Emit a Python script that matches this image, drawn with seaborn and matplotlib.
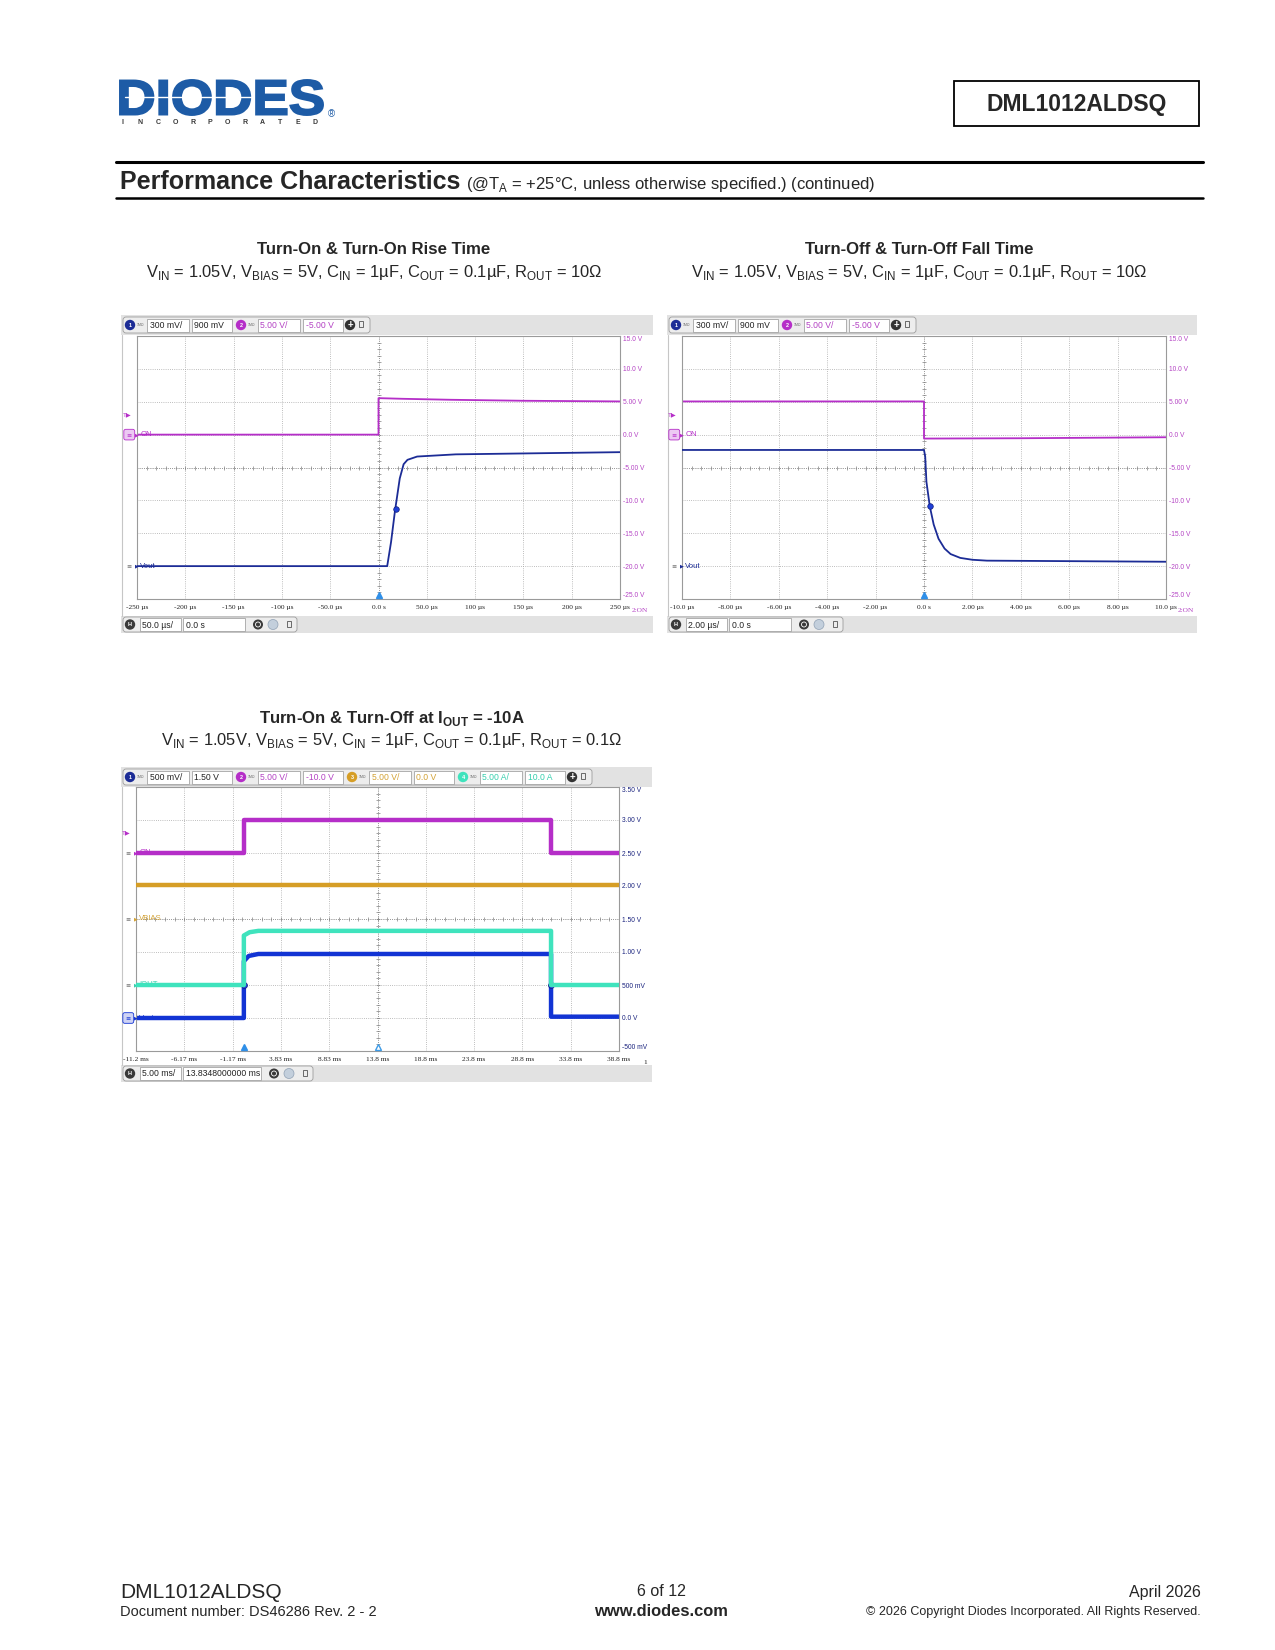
import numpy as np
import pandas as pd
import seaborn as sns
import matplotlib.pyplot as plt
from matplotlib.patches import Rectangle, Circle, FancyBboxPatch, PathPatch
from matplotlib.textpath import TextPath
from matplotlib.font_manager import FontProperties
from matplotlib.transforms import Affine2D, blended_transform_factory

plt.switch_backend('agg')

# Turn-On & Turn-On Rise Time (50 us/div), time in us
rise_xlabels = ['-250 µs', '-200 µs', '-150 µs', '-100 µs', '-50.0 µs', '0.0 s',
                '50.0 µs', '100 µs', '150 µs', '200 µs', '250 µs']
rise_on_t = [-250, 0, 0, 25, 75, 150, 250]
rise_on_v = [0.0, 0.0, 5.55, 5.45, 5.3, 5.15, 5.05]
rise_vout_t = [-250, 9, 13, 17, 22, 26, 30, 40, 80, 250]
rise_vout_v = [0.0, 0.0, 0.22, 0.5, 0.8, 0.93, 0.97, 1.0, 1.02, 1.04]
rise_mark_t = [18]
rise_mark_v = [0.52]

# Turn-Off & Turn-Off Fall Time (2 us/div), time in us
fall_xlabels = ['-10.0 µs', '-8.00 µs', '-6.00 µs', '-4.00 µs', '-2.00 µs', '0.0 s',
                '2.00 µs', '4.00 µs', '6.00 µs', '8.00 µs', '10.0 µs']
fall_on_t = [-10, 0, 0, 4, 10]
fall_on_v = [5.05, 5.05, -0.6, -0.55, -0.4]
fall_vout_t = [-10, 0.0, 0.05, 0.1, 0.24, 0.4, 0.6, 0.85, 1.1, 1.5, 2.0, 2.6, 10]
fall_vout_v = [1.06, 1.06, 1.0, 0.77, 0.545, 0.38, 0.25, 0.16, 0.11, 0.075, 0.058, 0.05, 0.04]
fall_mark_t = [0.24]
fall_mark_v = [0.545]

# Turn-On & Turn-Off at IOUT = -10A (5 ms/div), time in ms
load_xlabels = ['-11.2 ms', '-6.17 ms', '-1.17 ms', '3.83 ms', '8.83 ms', '13.8 ms',
                '18.8 ms', '23.8 ms', '28.8 ms', '33.8 ms', '38.8 ms']
load_on_t = [-11.17, 0, 0, 31.8, 31.8, 38.83]
load_on_v = [0.0, 0.0, 5.0, 5.0, 0.0, 0.0]
load_vbias_t = [-11.17, 38.83]
load_vbias_v = [5.2, 5.2]
load_iout_t = [-11.17, 0, 0, 0.6, 1.5, 31.8, 31.8, 38.83]
load_iout_a = [0.0, 0.0, 7.5, 8.0, 8.2, 8.2, 0.0, 0.0]
load_vout_t = [-11.17, 0, 0, 0.5, 1.5, 31.8, 31.8, 38.83]
load_vout_v = [0.0, 0.0, 0.86, 0.94, 0.97, 0.97, 0.02, 0.02]
load_mark_t = [0, 31.8]
load_mark_v = [0.5, 0.5]

# right-hand scale labels (top to bottom)
on_ylabels = ['15.0 V', '10.0 V', '5.00 V', '0.0 V', '-5.00 V', '-10.0 V', '-15.0 V', '-20.0 V', '-25.0 V']
load_ylabels = ['3.50 V', '3.00 V', '2.50 V', '2.00 V', '1.50 V', '1.00 V', '500 mV', '0.0 V', '-500 mV']

# channel colours
C1 = '#1c2c96'
C1_BRIGHT = '#1234d4'
C2 = '#b52ec8'
C3 = '#d69e26'
C4 = '#3fe3bd'
C2_TXT = '#b443c4'
C3_TXT = '#d3a235'
C4_TXT = '#36cfae'
BLUE_LOGO = '#1d5ba6'

W, H = 1275, 1650

sns.set_style('white')
plt.rcParams['font.family'] = ['Liberation Sans', 'DejaVu Sans']

fig = plt.figure(figsize=(12.75, 16.5), dpi=100)
page = fig.add_axes([0, 0, 1, 1])
page.set_xlim(0, W)
page.set_ylim(H, 0)
page.axis('off')


def frac(l, t, r, b):
    return [l / W, 1 - b / H, (r - l) / W, (b - t) / H]


# ---------------- scope chrome ----------------
def value_box(x0, x1, yc, s, color):
    page.add_patch(Rectangle((x0, yc - 6.5), x1 - x0, 13, fc='white', ec='#a4a4a4', lw=0.6))
    page.text(x0 + 2.5, yc + 0.5, s, fontsize=6.2, color=color, ha='left', va='center')


def group_box(x0, x1, yc, h=16):
    page.add_patch(FancyBboxPatch((x0, yc - h / 2), x1 - x0, h,
                                  boxstyle='round,pad=0,rounding_size=3',
                                  fc='#ededed', ec='#9c9c9c', lw=0.6))


def top_bar(l, r, t, chans):
    page.add_patch(Rectangle((l, t), r - l, 20, fc='#e2e2e2', ec='none'))
    yc = t + 10
    plus_x = l + 7 + len(chans) * 111
    group_box(l + 2, plus_x + 20, yc)
    for i, (num, ccol, tcol, s1, s2) in enumerate(chans):
        o = l + i * 111
        page.add_patch(Circle((o + 9, yc), 5.2, fc=ccol, ec='none'))
        page.text(o + 9, yc + 0.3, num, color='white', fontsize=4, fontweight='bold',
                  ha='center', va='center')
        page.text(o + 15.5, yc, '1MΩ', fontsize=2.5, color='#6a6a6a', va='center')
        value_box(o + 26, o + 68, yc, s1, tcol)
        value_box(o + 71, o + 111, yc, s2, tcol)
    page.add_patch(Circle((plus_x, yc), 5.2, fc='#333333', ec='none'))
    page.text(plus_x, yc, '+', color='white', fontsize=7, fontweight='bold', ha='center', va='center')
    page.add_patch(Rectangle((plus_x + 9, yc - 4), 4, 6, fc='none', ec='#555555', lw=0.6))


def bottom_bar(l, r, t, b, s1, s2, w2):
    page.add_patch(Rectangle((l, t), r - l, b - t, fc='#e2e2e2', ec='none'))
    yc = (t + b) / 2
    end = l + 62 + w2
    group_box(l + 2, end + 52, yc, h=15)
    page.add_patch(Circle((l + 9, yc), 5.2, fc='#3a3a3a', ec='none'))
    page.text(l + 9, yc + 0.3, 'H', color='white', fontsize=4, fontweight='bold', ha='center', va='center')
    value_box(l + 19, l + 60, yc, s1, '#222222')
    value_box(l + 62, end, yc, s2, '#222222')
    page.add_patch(Circle((end + 13, yc), 5, fc='#3a3a3a', ec='none'))
    page.add_patch(Circle((end + 13, yc), 2.5, fc='none', ec='white', lw=0.6))
    page.add_patch(Circle((end + 28, yc), 5, fc='#c3cfdc', ec='#8fa0b4', lw=0.5))
    page.add_patch(Rectangle((end + 42, yc - 4), 4, 6, fc='none', ec='#555555', lw=0.6))


def panel(l, plot_t, bar_t):
    page.plot([l + 1, l + 1], [plot_t, bar_t], color='#c6c6c6', lw=0.8)


def scope(rect, xlim, xlabels, chans, ref, ylabels, ycolor):
    l, t, r, b = rect
    ax = fig.add_axes(frac(l, t, r, b))
    axs = {name: (ax if name == ref else ax.twinx()) for name in chans}
    for name, (scale, center) in chans.items():
        a = axs[name]
        a.set_ylim(center - 4 * scale, center + 4 * scale)
        if a is not ax:
            a.set_yticks([])
            for s in a.spines.values():
                s.set_visible(False)
    scale, center = chans[ref]
    lo, hi = center - 4 * scale, center + 4 * scale
    ax.set_xlim(*xlim)
    ax.set_facecolor('white')
    ax.set_xticks(np.linspace(xlim[0], xlim[1], 11))
    ax.set_xticklabels(xlabels, fontfamily='Liberation Serif')
    ax.set_yticks(np.linspace(lo, hi, 9))
    ax.set_yticklabels(ylabels[::-1])
    ax.yaxis.tick_right()
    ax.tick_params(axis='x', length=0, pad=4.5, labelsize=5.3, labelcolor='#222222')
    ax.tick_params(axis='y', length=0, pad=2.5, labelsize=4.8, labelcolor=ycolor)
    ylab = ax.get_yticklabels()
    ylab[-1].set_va('top')
    ylab[0].set_va('bottom')
    ax.grid(True, color='#a8a8a8', lw=0.6, ls=(0, (1, 1.6)))
    for s in ax.spines.values():
        s.set_color('#9a9a9a')
        s.set_linewidth(0.8)
    xm = (xlim[0] + xlim[1]) / 2
    ax.axvline(xm, color='#8c8c8c', lw=0.6, ls=(0, (1, 1.6)))
    ax.axhline(center, color='#8c8c8c', lw=0.6, ls=(0, (1, 1.6)))
    ax.plot(np.linspace(xlim[0], xlim[1], 51), np.full(51, center), ls='none',
            marker='|', ms=2.4, mew=0.5, color='#808080')
    ax.plot(np.full(41, xm), np.linspace(lo, hi, 41), ls='none',
            marker='_', ms=2.4, mew=0.5, color='#808080')
    return ax, axs


def trace(a, t, v, color, lw):
    df = pd.DataFrame({'t': t, 'v': v})
    sns.lineplot(data=df, x='t', y='v', ax=a, color=color, lw=lw,
                 estimator=None, sort=False, legend=False)
    a.set_xlabel('')
    a.set_ylabel('')


def chan_marker(ax, a, y, label, color, selected=None):
    tr = blended_transform_factory(ax.transAxes, a.transData)
    kw = dict(transform=tr, va='center', clip_on=False)
    if selected:
        ax.text(-0.016, y, '≡', ha='center', fontsize=4.5, color=color, family=['DejaVu Sans'],
                bbox=dict(boxstyle='round,pad=0.45,rounding_size=0.3', fc=selected, ec=color, lw=0.6), **kw)
    else:
        ax.text(-0.016, y, '≡', ha='center', fontsize=4.5, color='#666666', family=['DejaVu Sans'], **kw)
    ax.text(-0.004, y, '▶', ha='left', fontsize=3.6, color=color, family=['DejaVu Sans'], **kw)
    ax.text(0.007, y, label, ha='left', fontsize=5.6, color=color, **kw)


def trig_level(ax, a, y, color):
    tr = blended_transform_factory(ax.transAxes, a.transData)
    ax.text(-0.03, y, 'T▶', transform=tr, ha='left', va='center', fontsize=4.5, color=color,
            family=['Liberation Sans', 'DejaVu Sans'], clip_on=False)


def finish(ax, axs, chans, xlim):
    for name, (scale, center) in chans.items():
        axs[name].set_ylim(center - 4 * scale, center + 4 * scale)
    ax.set_xlim(*xlim)


# ---------------- page header ----------------
tp = TextPath((0, 0), 'DIODES', size=100, prop=FontProperties(family='Liberation Sans', weight='bold'))
bb = tp.get_extents()
logo_tr = Affine2D().translate(-bb.x0, -bb.y0).scale(203 / bb.width, -35 / bb.height).translate(120, 115)
page.add_patch(PathPatch(logo_tr.transform_path(tp), fc=BLUE_LOGO, ec=BLUE_LOGO, lw=1.4))
page.plot([125, 252], [97, 97], color='white', lw=1.0)
for i, ch in enumerate('INCORPORATED'):
    page.text(123 + i * 17.45, 122.5, ch, fontsize=5, fontweight='bold', color='#3a3a3a',
              ha='center', va='center')
page.text(331, 114, '®', fontsize=7, color=BLUE_LOGO, ha='center', va='center')

page.add_patch(Rectangle((954, 81), 245, 45, fc='white', ec='black', lw=1.3))
page.text(1076.5, 104, 'DML1012ALDSQ', fontsize=16.5, fontweight='bold', ha='center', va='center')

page.plot([116, 1203], [161.5, 161.5], color='black', lw=2.2)
page.plot([116, 1203], [197.5, 197.5], color='black', lw=1.8)
page.text(120, 182, 'Performance Characteristics', fontsize=18, fontweight='bold', ha='left', va='center')
page.text(466, 184, r'(@T$_{\mathregular{A}}$ = +25°C, unless otherwise specified.) (continued)',
          fontsize=12, ha='left', va='center')

# ---------------- chart titles ----------------
sub_10 = (r'V$_{\mathregular{IN}}$ = 1.05V, V$_{\mathregular{BIAS}}$ = 5V, C$_{\mathregular{IN}}$ = 1µF, '
          r'C$_{\mathregular{OUT}}$ = 0.1µF, R$_{\mathregular{OUT}}$ = 10Ω')
sub_01 = (r'V$_{\mathregular{IN}}$ = 1.05V, V$_{\mathregular{BIAS}}$ = 5V, C$_{\mathregular{IN}}$ = 1µF, '
          r'C$_{\mathregular{OUT}}$ = 0.1µF, R$_{\mathregular{OUT}}$ = 0.1Ω')
page.text(374, 250, 'Turn-On & Turn-On Rise Time', fontsize=12.1, fontweight='bold', ha='center', va='center')
page.text(374, 273, sub_10, fontsize=11.9, ha='center', va='center')
page.text(919, 250, 'Turn-Off & Turn-Off Fall Time', fontsize=12.1, fontweight='bold', ha='center', va='center')
page.text(919, 273, sub_10, fontsize=11.9, ha='center', va='center')
page.text(392, 718, r'Turn-On & Turn-Off at I$_{\mathregular{OUT}}$ = -10A', fontsize=12.1,
          fontweight='bold', ha='center', va='center')
page.text(392, 741, sub_01, fontsize=11.9, ha='center', va='center')

# ---------------- scope 1: turn-on ----------------
ch_on = {'ch1': (0.3, 0.9), 'ch2': (5.0, -5.0)}
panel(121, 335, 616)
top_bar(121, 653, 315, [('1', C1, '#222222', '300 mV/', '900 mV'),
                        ('2', C2, C2_TXT, '5.00 V/', '-5.00 V')])
bottom_bar(121, 653, 616, 633, '50.0 µs/', '0.0 s', 62)
ax1, axs1 = scope((137, 336, 620, 599), (-250, 250), rise_xlabels, ch_on, 'ch2', on_ylabels, C2_TXT)
trace(axs1['ch2'], rise_on_t, rise_on_v, C2, 1.3)
trace(axs1['ch1'], rise_vout_t, rise_vout_v, C1, 1.3)
axs1['ch1'].scatter(rise_mark_t, rise_mark_v, s=16, color='#2040d8', edgecolor='#0c1a7a', lw=0.5, zorder=6)
ax1.plot([0], [-24.4], marker='^', ms=5, color='#2f8fe8', clip_on=False, zorder=6)
chan_marker(ax1, axs1['ch2'], 0.0, 'ON', C2, selected='#ecc9f3')
chan_marker(ax1, axs1['ch1'], 0.0, 'Vout', C1)
trig_level(ax1, axs1['ch2'], 3.0, C2)
ax1.text(1.025, -0.042, '2:ON', transform=ax1.transAxes, fontsize=5.3, color=C2_TXT,
         ha='left', va='center', family='Liberation Serif')
finish(ax1, axs1, ch_on, (-250, 250))

# ---------------- scope 2: turn-off ----------------
panel(667, 335, 616)
top_bar(667, 1197, 315, [('1', C1, '#222222', '300 mV/', '900 mV'),
                         ('2', C2, C2_TXT, '5.00 V/', '-5.00 V')])
bottom_bar(667, 1197, 616, 633, '2.00 µs/', '0.0 s', 62)
ax2, axs2 = scope((682, 336, 1166, 599), (-10, 10), fall_xlabels, ch_on, 'ch2', on_ylabels, C2_TXT)
trace(axs2['ch2'], fall_on_t, fall_on_v, C2, 1.3)
trace(axs2['ch1'], fall_vout_t, fall_vout_v, C1, 1.3)
axs2['ch1'].scatter(fall_mark_t, fall_mark_v, s=16, color='#2040d8', edgecolor='#0c1a7a', lw=0.5, zorder=6)
ax2.plot([0], [-24.4], marker='^', ms=5, color='#2f8fe8', clip_on=False, zorder=6)
chan_marker(ax2, axs2['ch2'], 0.0, 'ON', C2, selected='#ecc9f3')
chan_marker(ax2, axs2['ch1'], 0.0, 'Vout', C1)
trig_level(ax2, axs2['ch2'], 3.0, C2)
ax2.text(1.025, -0.042, '2:ON', transform=ax2.transAxes, fontsize=5.3, color=C2_TXT,
         ha='left', va='center', family='Liberation Serif')
finish(ax2, axs2, ch_on, (-10, 10))

# ---------------- scope 3: 10 A load ----------------
ch_load = {'ch1': (0.5, 1.5), 'ch2': (5.0, -10.0), 'ch3': (5.0, 0.0), 'ch4': (5.0, 10.0)}
load_xlim = (-11.1652, 38.8348)
panel(121, 787, 1065)
top_bar(121, 652, 767, [('1', C1, '#222222', '500 mV/', '1.50 V'),
                        ('2', C2, C2_TXT, '5.00 V/', '-10.0 V'),
                        ('3', C3, C3_TXT, '5.00 V/', '0.0 V'),
                        ('4', C4, C4_TXT, '5.00 A/', '10.0 A')])
bottom_bar(121, 652, 1065, 1082, '5.00 ms/', '13.8348000000 ms', 78)
ax3, axs3 = scope((136, 787, 619, 1051), load_xlim, load_xlabels, ch_load, 'ch1', load_ylabels, '#1a237e')
trace(axs3['ch3'], load_vbias_t, load_vbias_v, C3, 3.2)
trace(axs3['ch2'], load_on_t, load_on_v, C2, 3.2)
trace(axs3['ch4'], load_iout_t, load_iout_a, C4, 3.2)
trace(axs3['ch1'], load_vout_t, load_vout_v, C1_BRIGHT, 3.2)
axs3['ch1'].scatter(load_mark_t, load_mark_v, s=18, color='#2040d8', edgecolor='#0c1a7a', lw=0.5, zorder=6)
ax3.plot([0], [-0.44], marker='^', ms=5, color='#2f8fe8', clip_on=False, zorder=6)
ax3.plot([13.8348], [-0.44], marker='^', ms=5, mfc='white', mec='#3c9ae6', clip_on=False, zorder=6)
chan_marker(ax3, axs3['ch2'], 0.0, 'ON', C2)
chan_marker(ax3, axs3['ch3'], 0.0, 'VBIAS', C3_TXT)
chan_marker(ax3, axs3['ch4'], 0.0, 'IOUT', C4_TXT)
chan_marker(ax3, axs3['ch1'], 0.0, 'Vout', C1_BRIGHT, selected='#cfd3f4')
trig_level(ax3, axs3['ch2'], 3.0, C2)
ax3.text(1.05, -0.044, '1', transform=ax3.transAxes, fontsize=5.3, color='#222222',
         ha='left', va='center', family='Liberation Serif')
finish(ax3, axs3, ch_load, load_xlim)

# ---------------- footer ----------------
page.text(120, 1592, 'DML1012ALDSQ', fontsize=15, ha='left', va='center')
page.text(120, 1612, 'Document number: DS46286 Rev. 2 - 2', fontsize=10.5, ha='left', va='center')
page.text(661, 1591, '6 of 12', fontsize=11.5, ha='center', va='center')
page.text(661, 1612, 'www.diodes.com', fontsize=11.9, fontweight='bold', ha='center', va='center')
page.text(1201, 1592, 'April 2026', fontsize=11.5, ha='right', va='center')
page.text(1201, 1612, '© 2026 Copyright Diodes Incorporated. All Rights Reserved.', fontsize=9,
          ha='right', va='center')

fig.savefig('out.png', dpi=100)
